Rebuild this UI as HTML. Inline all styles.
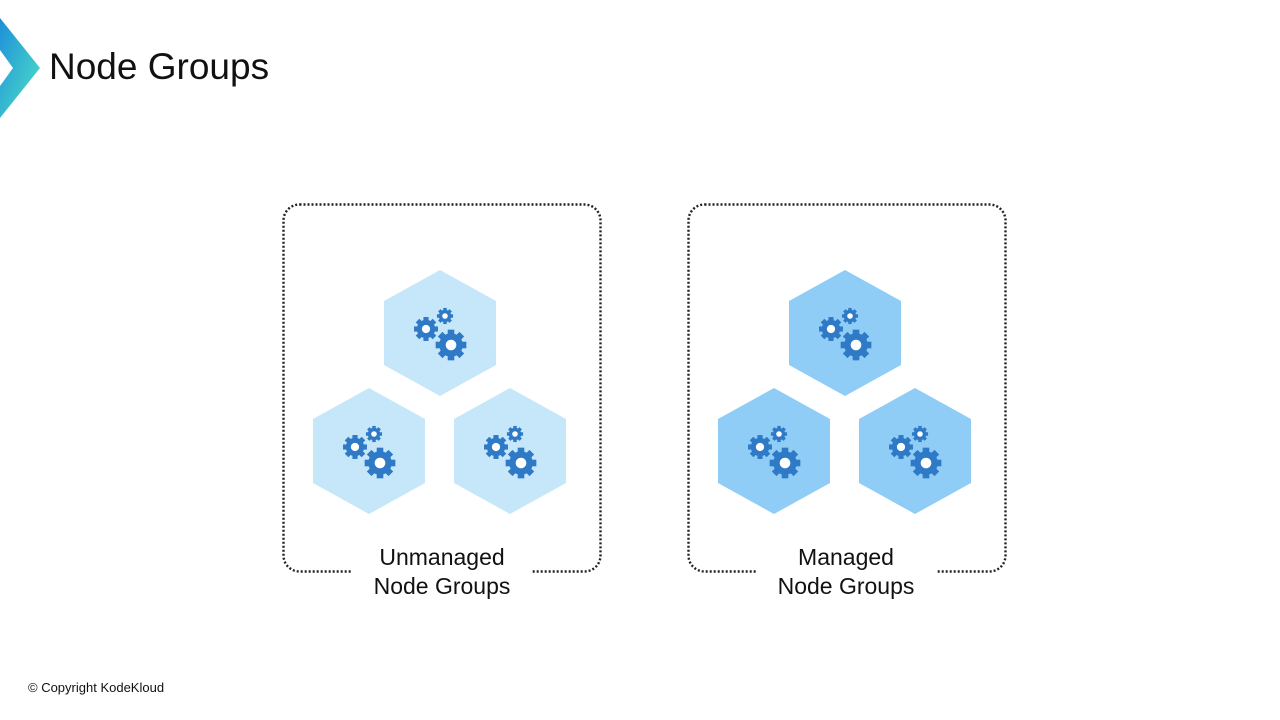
<!DOCTYPE html>
<html><head><meta charset="utf-8"><style>
html,body{margin:0;padding:0;background:#fff;}
body{width:1280px;height:720px;overflow:hidden;position:relative;font-family:"Liberation Sans","DejaVu Sans",sans-serif;}
.t{position:absolute;color:#111;}
</style></head><body>
<svg width="1280" height="720" style="position:absolute;left:0;top:0">
<defs>
<linearGradient id="lg" x1="0" y1="0" x2="1" y2="1">
<stop offset="0" stop-color="#1e8fd8"/><stop offset="1" stop-color="#4fe3c8"/></linearGradient>
<g id="gear">
<g fill="#2f7ac6">
<circle r="10"/>
<rect x="-2.8" y="-13" width="5.6" height="26"/>
<rect x="-2.8" y="-13" width="5.6" height="26" transform="rotate(45)"/>
<rect x="-2.8" y="-13" width="5.6" height="26" transform="rotate(90)"/>
<rect x="-2.8" y="-13" width="5.6" height="26" transform="rotate(135)"/>
</g>
<circle r="4.5" fill="#fff"/>
</g>
<g id="gears">
<use href="#gear" transform="translate(-14,-4) scale(0.92)"/>
<use href="#gear" transform="translate(5,-17) scale(0.62)"/>
<use href="#gear" transform="translate(11,12) scale(1.18)"/>
</g>
<polygon id="hex" points="0,-63 56,-32 56,32 0,63 -56,32 -56,-32"/>
</defs>
<path d="M0,18 L40,68 L0,118 Z" fill="url(#lg)"/>
<path d="M0,50 L13,68 L0,86 Z" fill="#fff"/>
<rect x="283.5" y="204.5" width="317" height="367" rx="16" fill="none" stroke="#222" stroke-width="2.4" stroke-dasharray="2 2"/>
<rect x="352" y="560" width="180" height="20" fill="#fff"/>
<rect x="688.5" y="204.5" width="317" height="367" rx="16" fill="none" stroke="#222" stroke-width="2.4" stroke-dasharray="2 2"/>
<rect x="756" y="560" width="180" height="20" fill="#fff"/>
<g fill="#c6e7fa">
<use href="#hex" x="440" y="333"/><use href="#hex" x="369" y="451"/><use href="#hex" x="510" y="451"/>
</g>
<g fill="#8fcdf6">
<use href="#hex" x="845" y="333"/><use href="#hex" x="774" y="451"/><use href="#hex" x="915" y="451"/>
</g>
<use href="#gears" x="440" y="333"/><use href="#gears" x="369" y="451"/><use href="#gears" x="510" y="451"/>
<use href="#gears" x="845" y="333"/><use href="#gears" x="774" y="451"/><use href="#gears" x="915" y="451"/>
</svg>
<div class="t" style="left:49px;top:46px;font-size:37px;">Node Groups</div>
<div class="t" style="left:342px;top:543px;width:200px;text-align:center;font-size:23px;line-height:29px;">Unmanaged<br>Node Groups</div>
<div class="t" style="left:746px;top:543px;width:200px;text-align:center;font-size:23px;line-height:29px;">Managed<br>Node Groups</div>
<div class="t" style="left:28px;top:680px;font-size:13px;">© Copyright KodeKloud</div>
</body></html>
